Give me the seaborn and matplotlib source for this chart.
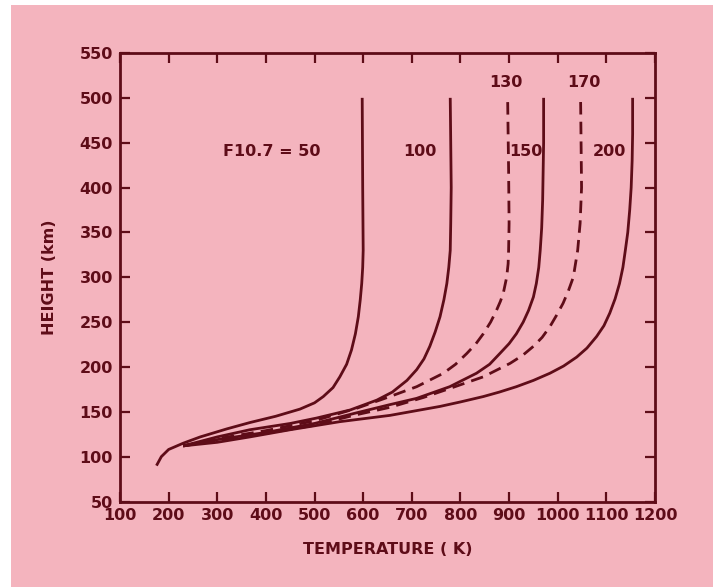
import matplotlib
matplotlib.use("Agg")
import matplotlib.pyplot as plt
from matplotlib.patches import Rectangle
import seaborn as sns
import pandas as pd

# ---- data (temperature K, height km) ----
T50 = [175, 185, 200, 230, 265, 320, 367, 420, 470, 500, 518, 538, 552, 566, 576, 584, 590, 594, 597, 599, 600, 599, 598]
h50 = [90, 100, 108, 115, 122, 131, 138, 145, 153, 160, 167, 177, 189, 203, 219, 237, 256, 275, 293, 311, 330, 400, 500]

T100 = [230, 300, 367, 450, 504, 573, 628, 660, 690, 710, 725, 737, 748, 758, 766, 772, 776, 779, 780, 781, 780, 779]
h100 = [112, 122, 130, 137, 143, 152, 163, 172, 185, 197, 209, 223, 239, 256, 275, 293, 311, 330, 360, 400, 450, 500]

T130 = [230, 300, 400, 500, 587, 655, 710, 765, 790, 813, 832, 847, 862, 874, 882, 888, 895, 898, 899, 900, 899, 897]
h130 = [112, 120, 129, 140, 154, 167, 178, 193, 203, 215, 226, 237, 250, 263, 273, 282, 300, 315, 330, 360, 420, 500]

T150 = [230, 300, 400, 500, 580, 655, 710, 778, 833, 860, 881, 900, 915, 929, 940, 950, 956, 961, 964, 967, 969, 971, 971]
h150 = [112, 119, 127, 137, 148, 158, 165, 178, 193, 203, 215, 226, 237, 250, 263, 278, 293, 311, 330, 355, 386, 450, 500]

T170 = [230, 300, 400, 500, 580, 655, 724, 778, 847, 902, 928, 950, 968, 984, 998, 1011, 1022, 1032, 1041, 1046, 1049, 1048, 1047]
h170 = [112, 118, 126, 135, 146, 155, 166, 176, 189, 204, 213, 223, 233, 245, 258, 271, 285, 300, 330, 360, 400, 450, 500]

T200 = [230, 300, 367, 450, 552, 655, 758, 800, 847, 880, 915, 950, 984, 1012, 1039, 1060, 1080, 1095, 1107, 1118, 1127, 1134, 1139, 1144, 1148, 1151, 1153, 1154, 1154]
h200 = [112, 116, 122, 130, 139, 146, 156, 161, 167, 172, 178, 185, 193, 201, 211, 221, 234, 246, 260, 276, 293, 311, 330, 350, 375, 400, 430, 460, 500]

curve_names = ["50", "100", "130", "150", "170", "200"]
curve_T = [T50, T100, T130, T150, T170, T200]
curve_h = [h50, h100, h130, h150, h170, h200]
curve_dashed = [False, False, True, False, True, False]

labels = ["F10.7 = 50", "100", "130", "150", "170", "200"]
label_T = [412, 717, 894, 935, 1054, 1107]
label_h = [440, 440, 517, 440, 517, 440]

xticks = [100, 200, 300, 400, 500, 600, 700, 800, 900, 1000, 1100, 1200]
yticks = [50, 100, 150, 200, 250, 300, 350, 400, 450, 500, 550]

# ---- styling ----
PINK = "#F4B4BE"
INK = "#5E0C18"

sns.set_theme(style="ticks")
plt.rcParams["font.family"] = ["DejaVu Sans"]

fig = plt.figure(figsize=(7.13, 5.87), dpi=100, facecolor=PINK)
ax = fig.add_axes([120 / 713, 1 - 501.5 / 587, 535 / 713, 448.5 / 587])
ax.set_facecolor(PINK)

for name, T, h, dashed in zip(curve_names, curve_T, curve_h, curve_dashed):
    df = pd.DataFrame({"T": T, "h": h})
    ls = (0, (4.5, 2.6)) if dashed else "-"
    sns.lineplot(data=df, x="T", y="h", sort=False, estimator=None, ax=ax,
                 color=INK, linewidth=2.0, linestyle=ls, solid_capstyle="butt",
                 dash_capstyle="butt", solid_joinstyle="round")

for txt, tx, ty in zip(labels, label_T, label_h):
    ax.text(tx, ty, txt, ha="center", va="center", fontsize=11.5,
            fontweight="bold", color=INK)

ax.set_xlim(100, 1200)
ax.set_ylim(50, 550)
ax.set_xticks(xticks)
ax.set_yticks(yticks)
ax.tick_params(axis="both", direction="in", length=7, width=1.6, colors=INK,
               labelsize=11.5, top=True, right=True, labeltop=False,
               labelright=False, pad=5)
for lab in ax.get_xticklabels() + ax.get_yticklabels():
    lab.set_fontweight("bold")
    lab.set_color(INK)
for sp in ax.spines.values():
    sp.set_visible(True)
    sp.set_color(INK)
    sp.set_linewidth(2.0)

ax.set_xlabel("TEMPERATURE ( K)", fontsize=11.5, fontweight="bold", color=INK,
              labelpad=13)
ax.set_ylabel("HEIGHT (km)", fontsize=11.5, fontweight="bold", color=INK,
              labelpad=16)

# white scan border on the left and top
fig.patches.append(Rectangle((0, 0), 11 / 713, 1, transform=fig.transFigure,
                             facecolor="white", edgecolor="none", zorder=-1))
fig.patches.append(Rectangle((0, 1 - 5 / 587), 1, 5 / 587, transform=fig.transFigure,
                             facecolor="white", edgecolor="none", zorder=-1))

fig.savefig("out.png", dpi=100, facecolor=PINK)
